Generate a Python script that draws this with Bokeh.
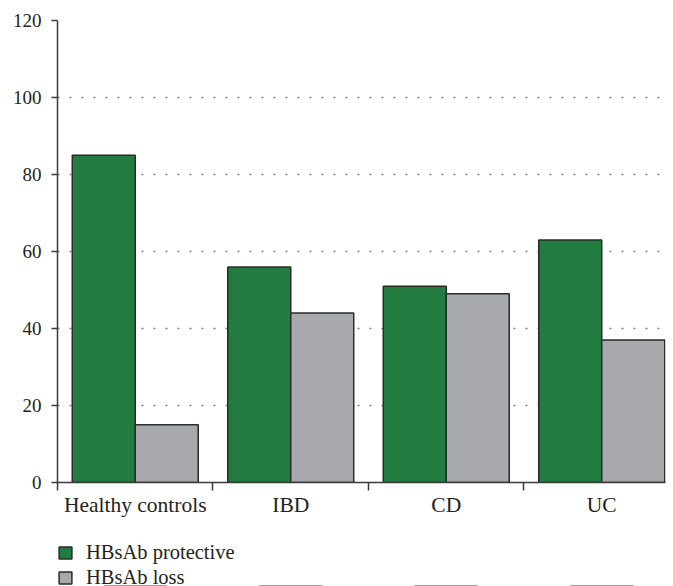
from bokeh.plotting import figure
from bokeh.layouts import column
from bokeh.models import Range1d, FixedTicker, Legend, LegendItem, ColumnDataSource
from bokeh.transform import dodge
from bokeh.embed import file_html
from bokeh.resources import INLINE

categories = ["Healthy controls", "IBD", "CD", "UC"]
protective = [85, 56, 51, 63]
loss = [15, 44, 49, 37]
series_names = ["HBsAb protective", "HBsAb loss"]
y_ticks = [0, 20, 40, 60, 80, 100, 120]

centers = [i + 0.5 for i in range(len(categories))]
src = ColumnDataSource(dict(x=centers, protective=protective, loss=loss))

FONT = "Liberation Serif"
TXT = "#231f20"
GREEN = "#237c3f"
GREY = "#a8a9ad"
EDGE = "#2b2b2b"

p = figure(width=673, height=530, output_backend="svg", toolbar_location=None,
           x_range=Range1d(0, 3.91), y_range=Range1d(0, 120))
p.min_border_left = 57
p.min_border_right = 8
p.min_border_top = 20
p.min_border_bottom = 48
p.outline_line_color = None

bw = 0.405
p.vbar(x=dodge("x", -bw / 2, range=p.x_range), top="protective", width=bw, source=src,
       fill_color=GREEN, line_color=EDGE, line_width=1.5)
p.vbar(x=dodge("x", bw / 2, range=p.x_range), top="loss", width=bw, source=src,
       fill_color=GREY, line_color=EDGE, line_width=1.5)

# axes
p.xaxis.ticker = FixedTicker(ticks=centers, minor_ticks=list(range(len(categories))))
p.xaxis.major_label_overrides = {c: lab for c, lab in zip(centers, categories)}
p.xaxis.major_tick_out = 0
p.xaxis.major_tick_in = 0
p.xaxis.minor_tick_out = 8
p.xaxis.minor_tick_in = 0
p.xaxis.minor_tick_line_color = "#3a3a3a"
p.xaxis.minor_tick_line_width = 1.5
p.xaxis.major_label_standoff = 2

p.yaxis.ticker = FixedTicker(ticks=y_ticks)
p.yaxis.minor_tick_line_color = None
p.yaxis.major_tick_out = 6
p.yaxis.major_tick_in = 0
p.yaxis.major_label_standoff = 10

for ax in (p.xaxis, p.yaxis):
    ax.axis_line_color = "#3a3a3a"
    ax.axis_line_width = 1.5
    ax.major_tick_line_color = "#3a3a3a"
    ax.major_tick_line_width = 1.5
    ax.major_label_text_font = FONT
    ax.major_label_text_color = TXT
    ax.major_label_text_font_style = "normal"

p.xaxis.major_label_text_font_size = "21.5px"
p.yaxis.major_label_text_font_size = "19px"

p.xgrid.grid_line_color = None
p.ygrid.ticker = FixedTicker(ticks=y_ticks[1:])
p.ygrid.grid_line_color = "#808080"
p.ygrid.grid_line_width = 1.5
p.ygrid.grid_line_dash = "2 10"
p.ygrid.grid_line_dash_offset = 0

# legend panel (separate figure so the legend is not clipped by the plot frame);
# its y range sits just above the data, so the bars themselves stay out of view
lg = figure(width=673, height=56, output_backend="svg", toolbar_location=None,
            x_range=Range1d(0, 3.91), y_range=Range1d(100, 200),
            x_axis_type=None, y_axis_type=None)
lg.min_border_left = 0
lg.min_border_right = 0
lg.min_border_top = 0
lg.min_border_bottom = 0
lg.outline_line_color = None
lg.xgrid.visible = False
lg.ygrid.visible = False
l1 = lg.vbar(x="x", top="protective", width=bw, source=src,
             fill_color=GREEN, line_color=EDGE, line_width=1.5)
l2 = lg.vbar(x="x", top="loss", width=bw, source=src,
             fill_color=GREY, line_color=EDGE, line_width=1.5)

legend = Legend(items=[LegendItem(label=series_names[0], renderers=[l1]),
                       LegendItem(label=series_names[1], renderers=[l2])],
                location=(0, -3), orientation="vertical")
legend.label_text_font = FONT
legend.label_text_font_size = "20.5px"
legend.label_text_color = TXT
legend.glyph_width = 16
legend.glyph_height = 15
legend.label_height = 20
legend.label_standoff = 13
legend.spacing = 2
legend.padding = 0
legend.margin = 0
legend.border_line_color = None
legend.background_fill_alpha = 0
lg.add_layout(legend, "center")

layout = column(p, lg, spacing=0)
open("out.html", "w").write(file_html(layout, INLINE))
